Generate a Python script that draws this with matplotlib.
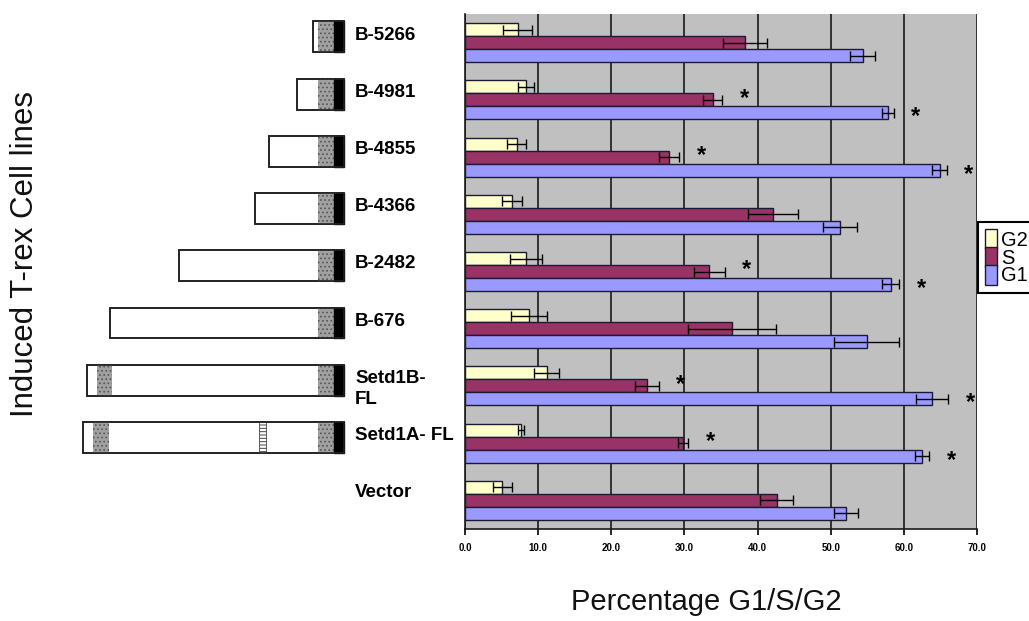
import numpy as np
import matplotlib.pyplot as plt
from matplotlib.patches import Rectangle, Patch

# cell lines, top to bottom
categories = ['B-5266', 'B-4981', 'B-4855', 'B-4366', 'B-2482', 'B-676',
              'Setd1B-\nFL', 'Setd1A- FL', 'Vector']

g2 = [7.2, 8.3, 7.1, 6.4, 8.3, 8.75, 11.2, 7.7, 5.1]
g2_err = [2.0, 1.1, 1.3, 1.4, 2.2, 2.5, 1.7, 0.4, 1.3]
s = [38.3, 33.9, 27.9, 42.1, 33.4, 36.5, 24.9, 29.8, 42.6]
s_err = [3.0, 1.3, 1.4, 3.4, 2.1, 6.0, 1.6, 0.7, 2.3]
g1 = [54.4, 57.8, 64.9, 51.3, 58.2, 54.9, 63.9, 62.5, 52.1]
g1_err = [1.7, 0.8, 1.0, 2.3, 1.2, 4.4, 2.2, 1.0, 1.6]

# significance marks
sig_s = [False, True, True, False, True, False, True, True, False]
sig_g1 = [False, True, True, False, True, False, True, True, False]

# construct schematics (length, N-terminal domain from left end, middle domain)
construct_len = [31, 47, 75, 89, 165, 234, 257, 261, 0]
n_domain = [None, None, None, None, None, None, (10, 25), (10, 26), None]
mid_domain = [None, None, None, None, None, None, None, (-85, -78), None]

xticks = [0, 10, 20, 30, 40, 50, 60, 70]
xtick_labels = ['0.0', '10.0', '20.0', '30.0', '40.0', '50.0', '60.0', '70.0']

plt.rcParams['font.family'] = ['Liberation Sans', 'DejaVu Sans']
plt.rcParams['hatch.linewidth'] = 0.7

W, H = 1029, 621
fig = plt.figure(figsize=(W/100, H/100), dpi=100)
ax = fig.add_axes([465/W, 1-529/H, 512/W, 515/H])
ax.set_facecolor('#c0c0c0')

y = np.arange(len(categories))
h = 0.227
edge = '#1a1a33'
ax.barh(y - h, g2, height=h, color='#ffffcc', edgecolor=edge, lw=1, zorder=3)
ax.barh(y, s, height=h, color='#993366', edgecolor=edge, lw=1, zorder=3)
ax.barh(y + h, g1, height=h, color='#9999ff', edgecolor=edge, lw=1, zorder=3)
for vals, errs, yy in [(g2, g2_err, y - h), (s, s_err, y), (g1, g1_err, y + h)]:
    ax.errorbar(vals, yy, xerr=errs, fmt='none', ecolor='black', elinewidth=1,
                capsize=3.5, capthick=1, zorder=4)

# asterisks
for i in range(len(categories)):
    if sig_s[i]:
        ax.text(s[i] + s_err[i] + 3, i - 0.03, '*', fontsize=17, fontweight='bold',
                ha='center', va='center')
    if sig_g1[i]:
        ax.text(g1[i] + g1_err[i] + 3, i + h + 0.07, '*', fontsize=17, fontweight='bold',
                ha='center', va='center')

ax.set_xlim(0, 70)
ax.set_ylim(8.5, -0.5)
ax.set_xticks(xticks)
ax.set_xticklabels(xtick_labels, fontsize=7, fontweight='bold')
ax.set_yticks([])
ax.xaxis.grid(True, color='#1a1a1a', lw=1.2)
ax.set_axisbelow(True)
for sp in ['top', 'right']:
    ax.spines[sp].set_visible(False)
for sp in ['left', 'bottom']:
    ax.spines[sp].set_color('#1a1a1a')
    ax.spines[sp].set_linewidth(1.2)
ax.tick_params(axis='x', direction='out', length=4, width=1.2, pad=6)

# schematic panel, 1 unit = 1 pixel, right end of boxes at 0
axs = fig.add_axes([0, 1-529/H, 460/W, 515/H], sharey=ax)
axs.set_xlim(-344, 116)
axs.axis('off')
bh = 0.54
off = -0.1
for i, L in enumerate(construct_len):
    yc = i + off
    if L > 0:
        axs.add_patch(Rectangle((-L, yc - bh/2), L, bh, facecolor='white',
                                edgecolor='#222222', lw=1.2, zorder=2))
        axs.add_patch(Rectangle((-26, yc - bh/2), 16, bh, facecolor='#a0a0a0',
                                edgecolor='#555555', hatch='....', lw=0, zorder=3))
        axs.add_patch(Rectangle((-10, yc - bh/2), 10, bh, facecolor='black',
                                edgecolor='black', lw=1, zorder=3))
        if n_domain[i]:
            a, b = n_domain[i]
            axs.add_patch(Rectangle((-L + a, yc - bh/2), b - a, bh, facecolor='#a0a0a0',
                                    edgecolor='#555555', hatch='....', lw=0, zorder=3))
        if mid_domain[i]:
            a, b = mid_domain[i]
            axs.add_patch(Rectangle((a, yc - bh/2), b - a, bh, facecolor='white',
                                    edgecolor='#444444', hatch='-----', lw=0.6, zorder=3))
        axs.add_patch(Rectangle((-L, yc - bh/2), L, bh, fill=False,
                                edgecolor='#222222', lw=1.2, zorder=4))
    axs.text(11, i - 0.28, categories[i], fontsize=13.5, fontweight='bold',
             ha='left', va='top', linespacing=1.35)

fig.text(25/W, 1-254/H, 'Induced T-rex Cell lines', rotation=90, fontsize=22.5,
         ha='center', va='center', color='#111111')
fig.text(706/W, 1-602/H, 'Percentage G1/S/G2', fontsize=21,
         ha='center', va='center', color='#111111')

handles = [Patch(facecolor='#ffffcc', edgecolor=edge, label='G2'),
           Patch(facecolor='#993366', edgecolor=edge, label='S'),
           Patch(facecolor='#9999ff', edgecolor=edge, label='G1')]
leg = fig.legend(handles=handles, loc='upper left', bbox_to_anchor=(978/W, 1-222/H),
                 frameon=True, fancybox=False, edgecolor='black', framealpha=1,
                 handlelength=0.6, handleheight=1.15, handletextpad=0.2,
                 labelspacing=-0.15, borderpad=0.35, borderaxespad=0,
                 prop={'family': ['Liberation Sans Narrow', 'Liberation Sans'], 'size': 14.5})
leg.get_frame().set_linewidth(1.5)

plt.savefig('out.png', dpi=100)
